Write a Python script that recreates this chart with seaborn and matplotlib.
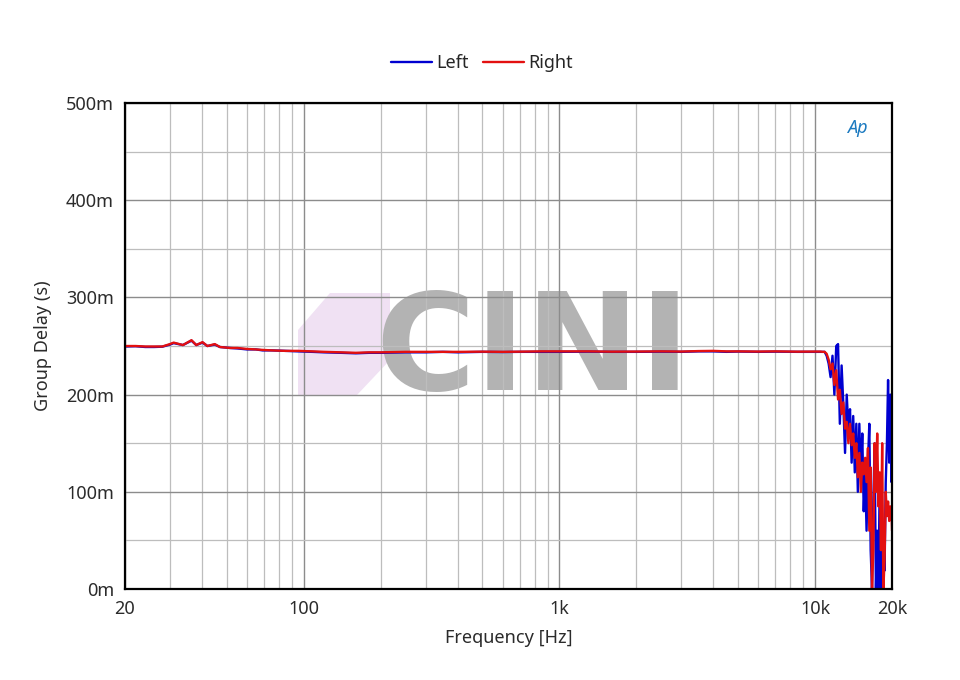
import numpy as np
import pandas as pd
import matplotlib
matplotlib.use("Agg")
import matplotlib.pyplot as plt
import matplotlib.ticker as mticker
from matplotlib.patches import Polygon
import seaborn as sns

# Frequencies (Hz) for the flat part, shared by both channels
freq_low = [20, 22, 24, 26, 28, 30, 31, 33.7, 36.4, 38, 40.2, 42, 44.9, 47, 51.5, 55, 60, 65, 69,
            75, 85, 95, 108, 120, 140, 160, 180, 200, 250, 300, 350, 400, 500, 600, 700, 850,
            1000, 1300, 1600, 2000, 2500, 3000, 3500, 4000, 4500, 5000, 6000, 7000, 8500, 10000, 10500]
# group delay in ms
left_low = [249.5, 249.8, 249, 249, 249.3, 251.5, 253, 251, 255.5, 251, 253.5, 250, 251.5, 249, 248,
            247.5, 246.5, 246.5, 245.5, 245.5, 245, 244.5, 244, 243.5, 243, 242.5, 243, 243, 243.5,
            243.5, 244, 243.5, 244, 243.8, 244, 244, 244, 244.2, 244, 244, 244.2, 244, 244.5,
            244.5, 244, 244.3, 244, 244.2, 244, 244, 244]
right_low = [250, 250, 249.5, 249.5, 249.5, 252, 253.5, 251, 256, 251, 254, 250, 252, 249, 248,
             248, 247, 246.5, 246, 245.5, 245, 245, 244.5, 244, 243.5, 243, 243.5, 243.5, 244,
             244, 244, 244, 244.2, 244, 244.2, 244.5, 244.5, 244.5, 244.2, 244.3, 244.5, 244.3, 244.8,
             245, 244.5, 244.5, 244.3, 244.5, 244.2, 244.3, 244.3]

# Frequencies (Hz) for the noisy top end
freq_high = [10700, 10900, 11100, 11300, 11500, 11700, 11900, 12100, 12300, 12500, 12700, 12900,
             13100, 13300, 13500, 13700, 13900, 14100, 14300, 14500, 14700, 14900, 15100, 15300,
             15500, 15700, 15900, 16100, 16300, 16500, 16700, 16900, 17100, 17300, 17500, 17700,
             17900, 18100, 18300, 18500, 18700, 18900, 19100, 19300, 19500, 19700, 19900, 20000]
left_high = [244, 244, 240, 232, 218, 240, 200, 250, 252, 170, 230, 190,
             140, 200, 165, 185, 130, 178, 120, 170, 100, 170, 115, 160,
             80, 120, 60, 130, 170, 40, 0, 90, 150, 0, 60, 0,
             110, 0, 20, 60, 19, 110, 150, 215, 130, 200, 110, 150]
right_high = [244, 244, 242, 236, 226, 232, 210, 225, 195, 205, 180, 192,
              165, 172, 150, 170, 148, 160, 135, 150, 115, 140, 100, 130,
              118, 135, 110, 145, 60, 125, 0, 40, 150, 100, 160, 85,
              120, 40, 150, 0, 30, 100, 75, 90, 70, 85, 80, 60]

freq = freq_low + freq_high
df = pd.concat([
    pd.DataFrame({"Frequency": freq, "Delay": left_low + left_high, "Channel": "Left"}),
    pd.DataFrame({"Frequency": freq, "Delay": right_low + right_high, "Channel": "Right"}),
])

sns.set_style("white")
plt.rcParams["font.family"] = ["Noto Sans", "DejaVu Sans"]

fig = plt.figure(figsize=(9.6, 6.8), dpi=100)
ax = fig.add_axes([0.1302, 0.1338, 0.7990, 0.7147])
ax.patch.set_facecolor("none")

# watermark, drawn before the axes so the grid lies on top of it
hexagon = Polygon([(298, 330), (330, 293), (390, 293), (390, 360), (357, 395), (298, 395)],
                  closed=True, facecolor="#e6cdec", alpha=0.6, edgecolor="none", zorder=-1)
hexagon.set_transform(matplotlib.transforms.Affine2D().scale(1, -1).translate(0, 680))
fig.patches.append(hexagon)
fig.text(0.555, 0.482, "CINI", fontsize=98, fontweight="bold", family="DejaVu Sans",
         color="#b3b3b3", ha="center", va="center", zorder=-1)

sns.lineplot(data=df, x="Frequency", y="Delay", hue="Channel", hue_order=["Left", "Right"],
             palette={"Left": "#0000d0", "Right": "#e31010"}, estimator=None, sort=False,
             linewidth=1.7, ax=ax, zorder=3)

ax.set_xscale("log")
ax.set_xlim(20, 20000)
ax.set_ylim(0, 500)
ax.set_xticks([20, 100, 1000, 10000, 20000])
ax.set_xticklabels(["20", "100", "1k", "10k", "20k"])
ax.xaxis.set_minor_locator(mticker.LogLocator(base=10, subs=np.arange(2, 10), numticks=20))
ax.xaxis.set_minor_formatter(mticker.NullFormatter())
ax.set_yticks(np.arange(0, 501, 100))
ax.yaxis.set_minor_locator(mticker.MultipleLocator(50))
ax.yaxis.set_major_formatter(mticker.FuncFormatter(lambda v, p: f"{v:g}m"))
ax.grid(which="major", color="#8c8c8c", linewidth=1.0)
ax.grid(which="minor", color="#bdbdbd", linewidth=0.9)
ax.set_axisbelow(True)
ax.tick_params(which="both", length=0, labelsize=13, colors="#2b2b2b", pad=8)
for s in ax.spines.values():
    s.set_color("black")
    s.set_linewidth(1.6)
    s.set_zorder(4)

ax.set_xlabel("Frequency [Hz]", fontsize=13, color="#2b2b2b", labelpad=8)
ax.set_ylabel("Group Delay (s)", fontsize=13, color="#2b2b2b", labelpad=10)

sns.move_legend(ax, "lower center", bbox_to_anchor=(0.465, 1.03), ncol=2, frameon=False,
                title=None, fontsize=13, handlelength=2.3, columnspacing=0.8, handletextpad=0.2)

# AP logo
ax.text(0.968, 0.968, "Ap", transform=ax.transAxes, fontsize=13, fontstyle="italic",
        fontweight="bold", color="#1c7ac0", ha="right", va="top")

fig.savefig("out.png", dpi=100)
